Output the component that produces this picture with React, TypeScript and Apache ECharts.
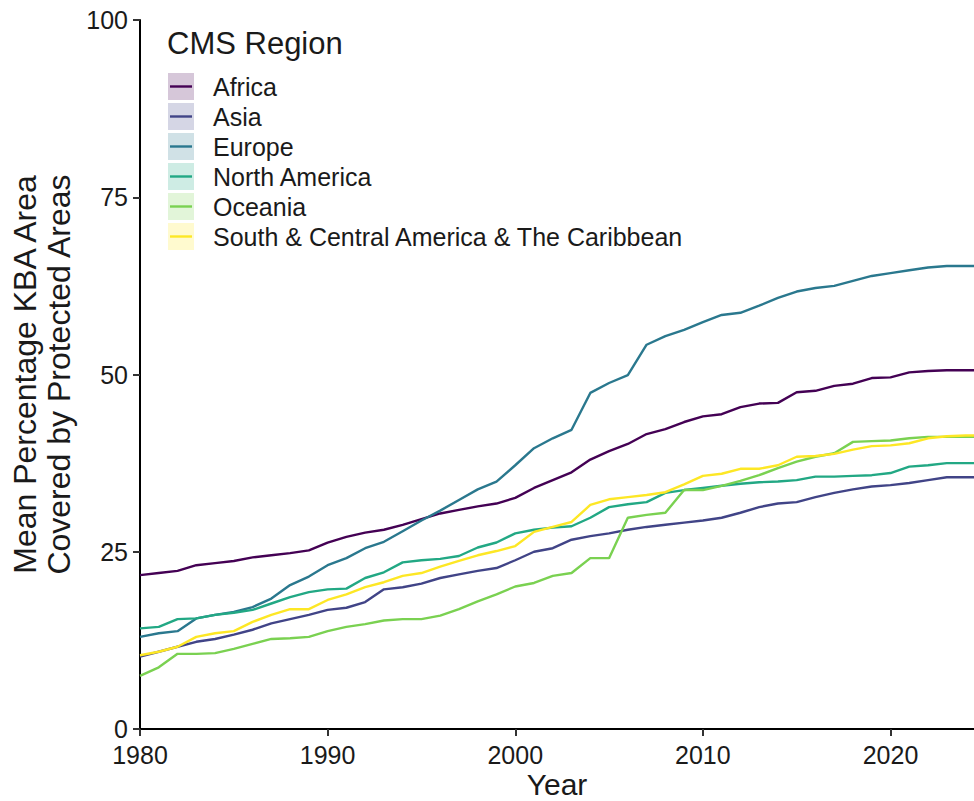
import React, { useEffect, useRef } from "react";
import * as echarts from "echarts";

const YEARS = [
  1980, 1981, 1982, 1983, 1984, 1985, 1986, 1987, 1988, 1989,
  1990, 1991, 1992, 1993, 1994, 1995, 1996, 1997, 1998, 1999,
  2000, 2001, 2002, 2003, 2004, 2005, 2006, 2007, 2008, 2009,
  2010, 2011, 2012, 2013, 2014, 2015, 2016, 2017, 2018, 2019,
  2020, 2021, 2022, 2023, 2024, 2025,
];

const REGIONS = [
  "Africa",
  "Asia",
  "Europe",
  "North America",
  "Oceania",
  "South & Central America & The Caribbean",
];

const COLORS = ["#440154", "#414487", "#2A788E", "#22A884", "#7AD151", "#FDE725"];

const AFRICA = [
  21.7, 22.0, 22.3, 23.1, 23.4, 23.7, 24.2, 24.5, 24.8, 25.2,
  26.3, 27.1, 27.7, 28.1, 28.8, 29.6, 30.4, 30.9, 31.4, 31.8,
  32.6, 34.0, 35.1, 36.2, 38.0, 39.2, 40.2, 41.6, 42.3, 43.3,
  44.1, 44.4, 45.4, 45.9, 46.0, 47.5, 47.7, 48.4, 48.7, 49.5,
  49.6, 50.3, 50.5, 50.6, 50.6, 50.6,
];
const ASIA = [
  10.2, 10.9, 11.6, 12.3, 12.7, 13.3, 14.0, 14.9, 15.5, 16.1,
  16.8, 17.1, 17.9, 19.7, 20.0, 20.5, 21.3, 21.8, 22.3, 22.7,
  23.8, 25.0, 25.5, 26.7, 27.2, 27.6, 28.1, 28.5, 28.8, 29.1,
  29.4, 29.8, 30.5, 31.3, 31.8, 32.0, 32.7, 33.3, 33.8, 34.2,
  34.4, 34.7, 35.1, 35.5, 35.5, 35.5,
];
const EUROPE = [
  13.0, 13.5, 13.8, 15.6, 16.1, 16.5, 17.2, 18.4, 20.3, 21.5,
  23.1, 24.1, 25.5, 26.4, 27.9, 29.4, 30.8, 32.3, 33.8, 34.9,
  37.2, 39.6, 41.0, 42.2, 47.4, 48.8, 49.9, 54.2, 55.4, 56.3,
  57.4, 58.4, 58.7, 59.7, 60.8, 61.7, 62.2, 62.5, 63.2, 63.9,
  64.3, 64.7, 65.1, 65.3, 65.3, 65.3,
];
const NORTH_AMERICA = [
  14.2, 14.4, 15.5, 15.6, 16.1, 16.4, 16.8, 17.7, 18.6, 19.3,
  19.7, 19.8, 21.3, 22.1, 23.5, 23.8, 24.0, 24.4, 25.6, 26.3,
  27.6, 28.1, 28.4, 28.6, 29.8, 31.3, 31.7, 32.0, 33.3, 33.7,
  34.0, 34.3, 34.6, 34.8, 34.9, 35.1, 35.6, 35.6, 35.7, 35.8,
  36.1, 37.0, 37.2, 37.5, 37.5, 37.5,
];
const OCEANIA = [
  7.5, 8.7, 10.6, 10.6, 10.7, 11.3, 12.0, 12.7, 12.8, 13.0,
  13.8, 14.4, 14.8, 15.3, 15.5, 15.5, 16.0, 16.9, 18.0, 19.0,
  20.1, 20.6, 21.6, 22.0, 24.1, 24.1, 29.8, 30.2, 30.5, 33.7,
  33.7, 34.3, 35.0, 35.8, 36.8, 37.7, 38.4, 38.9, 40.5, 40.6,
  40.7, 41.0, 41.2, 41.2, 41.2, 41.2,
];
const SOUTH_CENTRAL = [
  10.4, 10.9, 11.6, 13.0, 13.5, 13.8, 15.1, 16.1, 16.9, 16.9,
  18.2, 19.0, 20.0, 20.7, 21.6, 22.0, 22.9, 23.7, 24.5, 25.1,
  25.8, 27.8, 28.5, 29.2, 31.6, 32.4, 32.7, 33.0, 33.4, 34.5,
  35.7, 36.0, 36.7, 36.7, 37.2, 38.4, 38.5, 38.8, 39.4, 39.9,
  40.0, 40.3, 41.0, 41.3, 41.4, 41.4,
];

const VALUES = [AFRICA, ASIA, EUROPE, NORTH_AMERICA, OCEANIA, SOUTH_CENTRAL];
// half-width of the confidence ribbon around each mean line
const BAND_HALF = [0.35, 0.2, 0.2, 0.7, 0.6, 0.2];

const X_TICKS = [1980, 1990, 2000, 2010, 2020];
const Y_TICKS = [0, 25, 50, 75, 100];

const LEGEND_TITLE = "CMS Region";
const X_TITLE = "Year";
const Y_TITLE = "Mean Percentage KBA Area\nCovered by Protected Areas";

const FONT = "'Liberation Sans', Arial, Helvetica, sans-serif";
const TEXT_COLOR = "#1a1a1a";

function hexToRgba(hex: string, a: number) {
  const n = parseInt(hex.slice(1), 16);
  return `rgba(${(n >> 16) & 255},${(n >> 8) & 255},${n & 255},${a})`;
}

export default function App() {
  const ref = useRef<HTMLDivElement>(null);

  useEffect(() => {
    if (!ref.current) return;
    const chart = echarts.init(ref.current, undefined, { renderer: "svg" });

    const series: any[] = [];
    REGIONS.forEach((name, i) => {
      const vals = VALUES[i];
      const h = BAND_HALF[i];
      series.push({
        type: "line",
        name: name + " lower",
        stack: "band" + i,
        data: YEARS.map((y, k) => [y, vals[k] - h]),
        symbol: "none",
        silent: true,
        lineStyle: { opacity: 0 },
        z: 1,
      });
      series.push({
        type: "line",
        name: name + " band",
        stack: "band" + i,
        data: YEARS.map((y) => [y, 2 * h]),
        symbol: "none",
        silent: true,
        lineStyle: { opacity: 0 },
        areaStyle: { color: hexToRgba(COLORS[i], 0.25), opacity: 1 },
        z: 1,
      });
    });
    REGIONS.forEach((name, i) => {
      series.push({
        type: "line",
        name,
        data: YEARS.map((y, k) => [y, VALUES[i][k]]),
        symbol: "none",
        lineStyle: { color: COLORS[i], width: 2.4 },
        itemStyle: { color: COLORS[i] },
        z: 3,
      });
    });

    const legendTop = 73;
    const legendStep = 30;
    const legendGraphics: any[] = [
      {
        type: "text",
        x: 167,
        y: 43,
        style: {
          text: LEGEND_TITLE,
          font: `31px ${FONT}`,
          fill: TEXT_COLOR,
          verticalAlign: "middle",
        },
      },
    ];
    REGIONS.forEach((name, i) => {
      const y = legendTop + i * legendStep;
      legendGraphics.push({
        type: "rect",
        shape: { x: 168, y, width: 26, height: 27 },
        style: { fill: hexToRgba(COLORS[i], 0.22) },
      });
      legendGraphics.push({
        type: "line",
        shape: { x1: 170, y1: y + 13.5, x2: 192, y2: y + 13.5 },
        style: { stroke: COLORS[i], lineWidth: 2.4 },
      });
      legendGraphics.push({
        type: "text",
        x: 213,
        y: y + 13.5,
        style: {
          text: name,
          font: `25px ${FONT}`,
          fill: TEXT_COLOR,
          verticalAlign: "middle",
        },
      });
    });

    chart.setOption({
      animation: false,
      backgroundColor: "#ffffff",
      textStyle: { fontFamily: FONT },
      grid: {
        left: 140,
        right: 0,
        top: 20,
        bottom: 72,
        containLabel: false,
        outerBoundsMode: "none",
      },
      xAxis: {
        type: "value",
        min: 1980,
        max: 2024.45,
        interval: 10,
        name: X_TITLE,
        nameLocation: "middle",
        nameGap: 40,
        nameMoveOverlap: false,
        nameTextStyle: {
          fontSize: 30,
          lineHeight: 30,
          color: TEXT_COLOR,
          fontFamily: FONT,
        },
        axisLine: { show: true, lineStyle: { color: "#000", width: 2 } },
        axisTick: {
          show: true,
          length: 7,
          lineStyle: { color: "#333", width: 2 },
          customValues: X_TICKS,
        },
        axisLabel: {
          fontSize: 25,
          lineHeight: 25,
          color: TEXT_COLOR,
          margin: 13,
          fontFamily: FONT,
          customValues: X_TICKS,
          formatter: (v: number) => String(v),
        },
        splitLine: { show: false },
      },
      yAxis: {
        type: "value",
        min: 0,
        max: 100,
        interval: 25,
        name: Y_TITLE,
        nameLocation: "middle",
        nameRotate: 90,
        nameGap: 64,
        nameMoveOverlap: false,
        nameTextStyle: {
          fontSize: 32,
          lineHeight: 34,
          color: TEXT_COLOR,
          fontFamily: FONT,
          align: "center",
        },
        axisLine: { show: true, lineStyle: { color: "#000", width: 2 } },
        axisTick: {
          show: true,
          length: 7,
          lineStyle: { color: "#333", width: 2 },
          customValues: Y_TICKS,
        },
        axisLabel: {
          fontSize: 25,
          lineHeight: 24,
          color: TEXT_COLOR,
          margin: 12,
          fontFamily: FONT,
          customValues: Y_TICKS,
        },
        splitLine: { show: false },
      },
      graphic: legendGraphics,
      series,
    });

    return () => chart.dispose();
  }, []);

  return (
    <div
      ref={ref}
      style={{ position: "absolute", left: 0, top: 0, width: 974, height: 801 }}
    />
  );
}
